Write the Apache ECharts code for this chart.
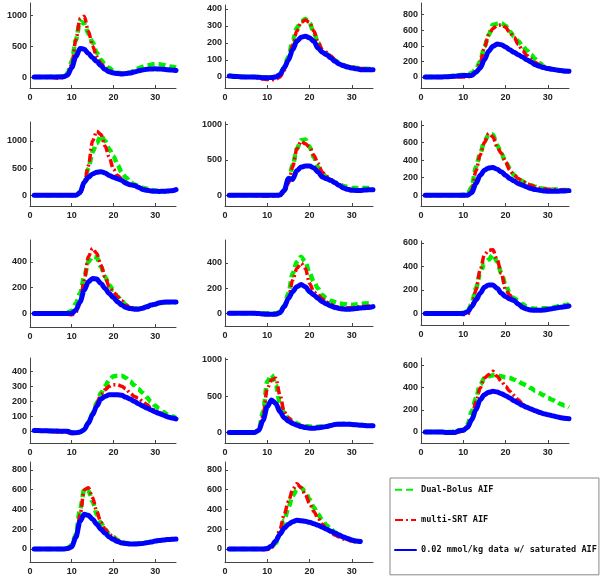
<!DOCTYPE html>
<html><head><meta charset="utf-8">
<script src="https://cdn.jsdelivr.net/npm/echarts@6/dist/echarts.min.js"></script>
<style>html,body{margin:0;padding:0;background:#fff}#c{width:600px;height:577px}</style>
</head><body><div id="c"></div><script>
// ---- data ----
const times = [1,2,3,4,5,6,7,8,9,10,11,12,13,14,15,16,17,18,19,20,21,22,23,24,25,26,27,28,29,30,31,32,33,34,35];
const xTicks = [0,10,20,30];
const seriesNames = ['Dual-Bolus AIF','multi-SRT AIF','0.02 mmol/kg data w/ saturated AIF'];

const green1 = [0,0,0,0,5,5,5,10,60,250,600,900,860,700,560,390,280,200,145,95,70,60,60,75,100,140,165,185,200,210,205,195,180,165,150];
const red1   = [0,0,0,0,-5,-10,-20,-10,40,200,600,940,980,740,500,330,220,150,100,75,60,55,55,65,80,100,115,125,130,132,130,125,118,112,105];
const blue1  = [0,0,0,0,0,0,0,5,30,150,330,460,450,380,310,250,180,120,85,65,55,50,55,65,80,100,115,125,130,132,130,125,118,112,105];
const yTicks1 = [0,500,1000];

const green2 = [8,6,4,2,0,0,0,0,-2,-3,0,0,10,60,120,210,288,327,340,318,259,200,150,135,118,98,82,70,62,58,54,50,48,47,45];
const red2   = [5,3,2,0,0,0,-3,-8,-12,-15,-16,-14,0,40,100,190,270,320,335,320,270,205,160,145,125,100,82,70,62,58,54,50,48,47,45];
const blue2  = [5,3,2,0,0,0,0,-2,-5,-5,-3,0,14,53,100,160,210,233,240,230,210,170,145,131,112,92,76,66,58,53,48,43,42,42,42];
const yTicks2 = [0,100,200,300,400];

const green3 = [0,0,0,0,0,5,10,20,22,25,30,50,100,200,390,540,670,684,690,658,585,520,457,400,342,286,230,180,137,115,102,90,80,70,64];
const red3   = [0,0,0,0,0,0,0,0,0,0,0,10,60,180,380,540,620,660,670,640,570,510,420,340,280,230,190,155,130,115,105,95,80,70,65];
const blue3  = [0,0,0,0,0,2,5,10,15,17,17,20,60,115,222,330,393,423,415,385,350,316,286,256,222,192,158,137,120,107,98,90,83,77,73];
const yTicks3 = [0,200,400,600,800];

const green4 = [0,0,0,0,0,0,0,0,0,0,5,60,240,500,800,960,1100,1000,850,720,560,420,330,250,200,170,140,120,100,90,75,70,80,90,100];
const red4   = [0,0,0,0,0,0,0,0,0,0,-5,30,200,545,1000,1180,1120,910,697,485,364,303,250,200,170,145,120,100,90,80,75,75,85,95,105];
const blue4  = [0,0,0,0,0,0,0,0,0,0,0,48,242,333,394,424,436,412,364,333,303,273,224,194,182,150,109,91,80,73,72,73,78,85,105];
const yTicks4 = [0,500,1000];

const green5 = [0,0,0,0,0,0,0,0,0,0,0,0,10,60,200,425,660,780,792,684,542,400,306,260,212,180,165,132,118,104,104,104,104,104,104];
const red5   = [0,0,0,0,0,0,0,-5,-10,-12,-12,-10,0,40,170,400,660,764,730,684,566,450,330,270,220,180,145,110,90,80,78,78,80,80,80];
const blue5  = [0,0,0,0,0,0,0,0,0,0,0,0,5,70,240,225,350,400,415,415,387,330,260,236,212,179,141,104,85,71,70,70,75,78,80];
const yTicks5 = [0,500,1000];

const green6 = [0,0,0,0,0,0,0,0,0,5,10,95,324,476,617,686,693,571,476,381,305,229,190,160,133,114,98,84,75,69,66,65,62,60,57];
const red6   = [0,0,0,0,0,0,0,0,-3,-5,-5,60,280,460,600,705,667,552,476,381,286,229,190,160,133,114,98,84,75,69,66,65,62,60,57];
const blue6  = [0,0,0,0,0,0,0,0,0,0,0,30,133,228,286,312,316,297,267,229,190,164,133,114,95,76,65,57,50,46,45,46,48,50,53];
const yTicks6 = [0,200,400,600,800];

const green7 = [0,0,0,0,0,0,0,5,10,20,77,155,284,400,439,434,361,284,219,180,129,98,65,46,38,38,45,55,65,72,80,85,88,88,88];
const red7   = [0,0,0,0,0,0,0,0,-5,-10,10,90,258,439,503,464,374,284,206,168,129,98,65,46,38,38,45,55,65,75,82,88,90,90,90];
const blue7  = [0,0,0,0,0,0,0,0,0,2,26,90,180,245,271,266,232,194,155,121,90,65,46,39,34,34,41,52,65,72,83,88,90,90,90];
const yTicks7 = [0,200,400];

const green8 = [0,0,0,0,0,0,0,0,0,0,0,0,10,60,158,316,408,447,408,316,250,197,145,118,100,89,79,74,71,68,70,74,77,79,79];
const red8   = [0,0,0,0,0,0,0,-3,-6,-10,-12,-10,5,40,120,263,355,395,355,237,171,145,115,90,70,55,48,45,45,45,48,52,55,58,60];
const blue8  = [0,0,0,0,0,0,0,-2,-5,-8,-8,-8,5,53,118,171,210,229,210,171,145,118,92,74,58,47,39,34,32,34,38,42,45,47,53];
const yTicks8 = [0,200,400];

const green9 = [0,0,0,0,0,0,0,0,0,5,10,86,214,343,429,457,500,443,343,243,171,129,109,80,57,43,40,43,43,43,50,57,65,71,80];
const red9   = [0,0,0,0,0,0,0,0,-5,-10,-10,60,200,371,500,537,543,457,343,200,157,114,85,55,40,30,28,28,30,35,42,48,54,58,63];
const blue9  = [0,0,0,0,0,0,0,0,0,0,14,57,114,171,223,243,243,214,171,143,123,109,80,51,37,29,26,26,29,34,40,46,52,57,63];
const yTicks9 = [0,200,400,600];

const green10 = [8,6,5,4,3,2,1,0,-2,-8,-10,-5,11,60,120,189,255,300,344,367,371,371,356,333,307,282,255,227,196,171,149,129,111,100,89];
const red10   = [3,2,1,0,-2,-3,-5,-5,-8,-15,-15,-8,11,55,115,185,244,278,300,311,311,300,284,255,233,222,200,178,155,138,122,111,100,91,84];
const blue10  = [5,5,4,3,2,2,1,0,0,-10,-10,-5,11,55,111,167,215,233,244,244,244,240,227,215,200,184,169,155,142,129,118,107,96,89,82];
const yTicks10 = [0,100,200,300,400];

const green11 = [0,0,0,0,0,0,0,40,286,700,792,654,400,263,194,157,124,101,88,83,80,80,85,90,100,112,118,120,118,115,110,105,100,97,95];
const red11   = [0,0,0,0,0,0,0,30,230,608,723,746,516,286,200,150,115,95,80,70,62,65,74,83,97,111,115,115,115,111,106,101,97,92,92];
const blue11  = [0,0,0,0,0,0,0,32,170,355,447,400,286,203,157,124,101,83,69,60,60,65,74,83,97,111,115,115,115,111,106,101,97,92,92];
const yTicks11 = [0,500,1000];

const green12 = [0,0,0,0,0,0,0,5,15,20,66,186,306,426,486,501,510,510,501,492,486,471,456,435,417,396,372,351,330,306,291,270,252,237,222];
const red12   = [0,0,0,0,0,-5,-8,-8,0,10,40,120,276,396,486,516,546,501,456,411,366,330,291,252,222,201,186,171,162,156,150,141,132,120,111];
const blue12  = [0,0,0,0,0,-5,-5,-5,12,15,42,111,201,291,336,357,366,360,345,327,306,282,261,240,222,207,192,177,165,156,147,138,129,123,120];
const yTicks12 = [0,200,400,600];

const green13 = [0,0,0,0,0,0,0,0,10,40,150,400,600,590,480,350,260,200,150,120,90,70,60,55,52,55,60,65,72,80,86,90,95,98,100];
const red13   = [0,0,0,0,0,0,0,0,0,20,100,350,600,620,520,380,270,200,150,115,85,65,55,50,50,52,56,62,70,80,86,90,95,98,100];
const blue13  = [0,0,0,0,0,0,0,0,5,20,120,280,350,340,300,250,200,160,120,95,75,60,55,50,50,52,56,62,70,80,86,90,95,98,100];
const yTicks13 = [0,200,400,600,800];

const green14 = [0,0,0,0,0,0,0,0,0,5,20,60,150,290,420,540,600,620,580,500,420,350,290,240,200,170,140,120,100,90,80,75];
const red14   = [0,0,0,0,0,0,0,0,-5,-5,10,80,200,350,480,600,660,620,550,460,380,310,250,200,170,140,120,100,90,80,72,70];
const blue14  = [0,0,0,0,0,0,0,0,0,5,30,80,150,210,250,275,290,285,280,270,255,240,220,200,180,160,140,120,105,90,80,75];
const yTicks14 = [0,200,400,600,800];

const panelData = [
  [green1,red1,blue1,yTicks1],[green2,red2,blue2,yTicks2],[green3,red3,blue3,yTicks3],
  [green4,red4,blue4,yTicks4],[green5,red5,blue5,yTicks5],[green6,red6,blue6,yTicks6],
  [green7,red7,blue7,yTicks7],[green8,red8,blue8,yTicks8],[green9,red9,blue9,yTicks9],
  [green10,red10,blue10,yTicks10],[green11,red11,blue11,yTicks11],[green12,red12,blue12,yTicks12],
  [green13,red13,blue13,yTicks13],[green14,red14,blue14,yTicks14]
];

// ---- layout (pixel boxes and axis extents) ----
const colLeft = [30, 225, 421];
const colWidth = [146, 148, 148];
const layout = [
  {top:3,   bottom:88,  min:-177, max:1194},
  {top:5,   bottom:88,  min:-65,  max:423},
  {top:3,   bottom:88,  min:-142, max:950},
  {top:122, bottom:206, min:-197, max:1350},
  {top:122, bottom:206, min:-151, max:1038},
  {top:121, bottom:206, min:-122, max:846},
  {top:240, bottom:327, min:-104, max:568},
  {top:240, bottom:326, min:-100, max:580},
  {top:241, bottom:325, min:-99,  max:617},
  {top:358, bottom:443, min:-78,  max:489},
  {top:358, bottom:443, min:-143, max:1023},
  {top:358, bottom:443, min:-99,  max:666},
  {top:462, bottom:562, min:-132, max:880},
  {top:462, bottom:562, min:-132, max:880}
];

const styles = [
  {color:'#00ee00', width:4.5, type:[7,4],       cap:'butt'},
  {color:'#ff0000', width:3.5, type:[8,3,2,3],   cap:'butt'},
  {color:'#0000ff', width:5,   type:'solid',     cap:'round'}
];

const labelFont = {fontFamily:'Liberation Sans', fontSize:9, fontWeight:'bold', color:'#222'};
const axisLineStyle = {color:'#444', width:1};
const plain = v => String(v);

const grids = [], xAxes = [], yAxes = [], series = [];
panelData.forEach((pd, i) => {
  const L = layout[i], c = i % 3;
  grids.push({left: colLeft[c], top: L.top, width: colWidth[c], height: L.bottom - L.top});
  xAxes.push({
    gridIndex: i, type: 'value', min: 0, max: 35,
    axisLine: {show: true, onZero: false, lineStyle: axisLineStyle},
    axisTick: {show: true, inside: true, length: 3, customValues: xTicks, lineStyle: axisLineStyle},
    axisLabel: Object.assign({customValues: xTicks, margin: 5, formatter: plain}, labelFont),
    splitLine: {show: false}
  });
  yAxes.push({
    gridIndex: i, type: 'value', min: L.min, max: L.max,
    axisLine: {show: true, onZero: false, lineStyle: axisLineStyle},
    axisTick: {show: true, inside: true, length: 3, customValues: pd[3], lineStyle: axisLineStyle},
    axisLabel: Object.assign({customValues: pd[3], margin: 3, formatter: plain}, labelFont),
    splitLine: {show: false}
  });
  for (let s = 0; s < 3; s++) {
    const vals = pd[s];
    series.push({
      name: seriesNames[s], type: 'line', xAxisIndex: i, yAxisIndex: i,
      data: vals.map((v, k) => [times[k], v]),
      showSymbol: false, symbol: 'none', smooth: 0.3, smoothMonotone: 'x',
      lineStyle: styles[s], itemStyle: {color: styles[s].color},
      z: 2 + s, silent: true
    });
  }
});

const chart = echarts.init(document.getElementById('c'));
chart.setOption({
  animation: false,
  backgroundColor: '#fff',
  grid: grids, xAxis: xAxes, yAxis: yAxes, series: series,
  legend: {
    data: seriesNames, orient: 'vertical', left: 390, top: 478,
    padding: [7, 2, 20, 4], itemGap: 20.5, itemWidth: 21, itemHeight: 12,
    borderColor: '#888', borderWidth: 1, backgroundColor: '#fff',
    itemStyle: {opacity: 0},
    textStyle: {fontFamily: 'DejaVu Sans Mono', fontSize: 8.6, fontWeight: 'bold', color: '#111'},
    selectedMode: false
  }
});
</script></body></html>
